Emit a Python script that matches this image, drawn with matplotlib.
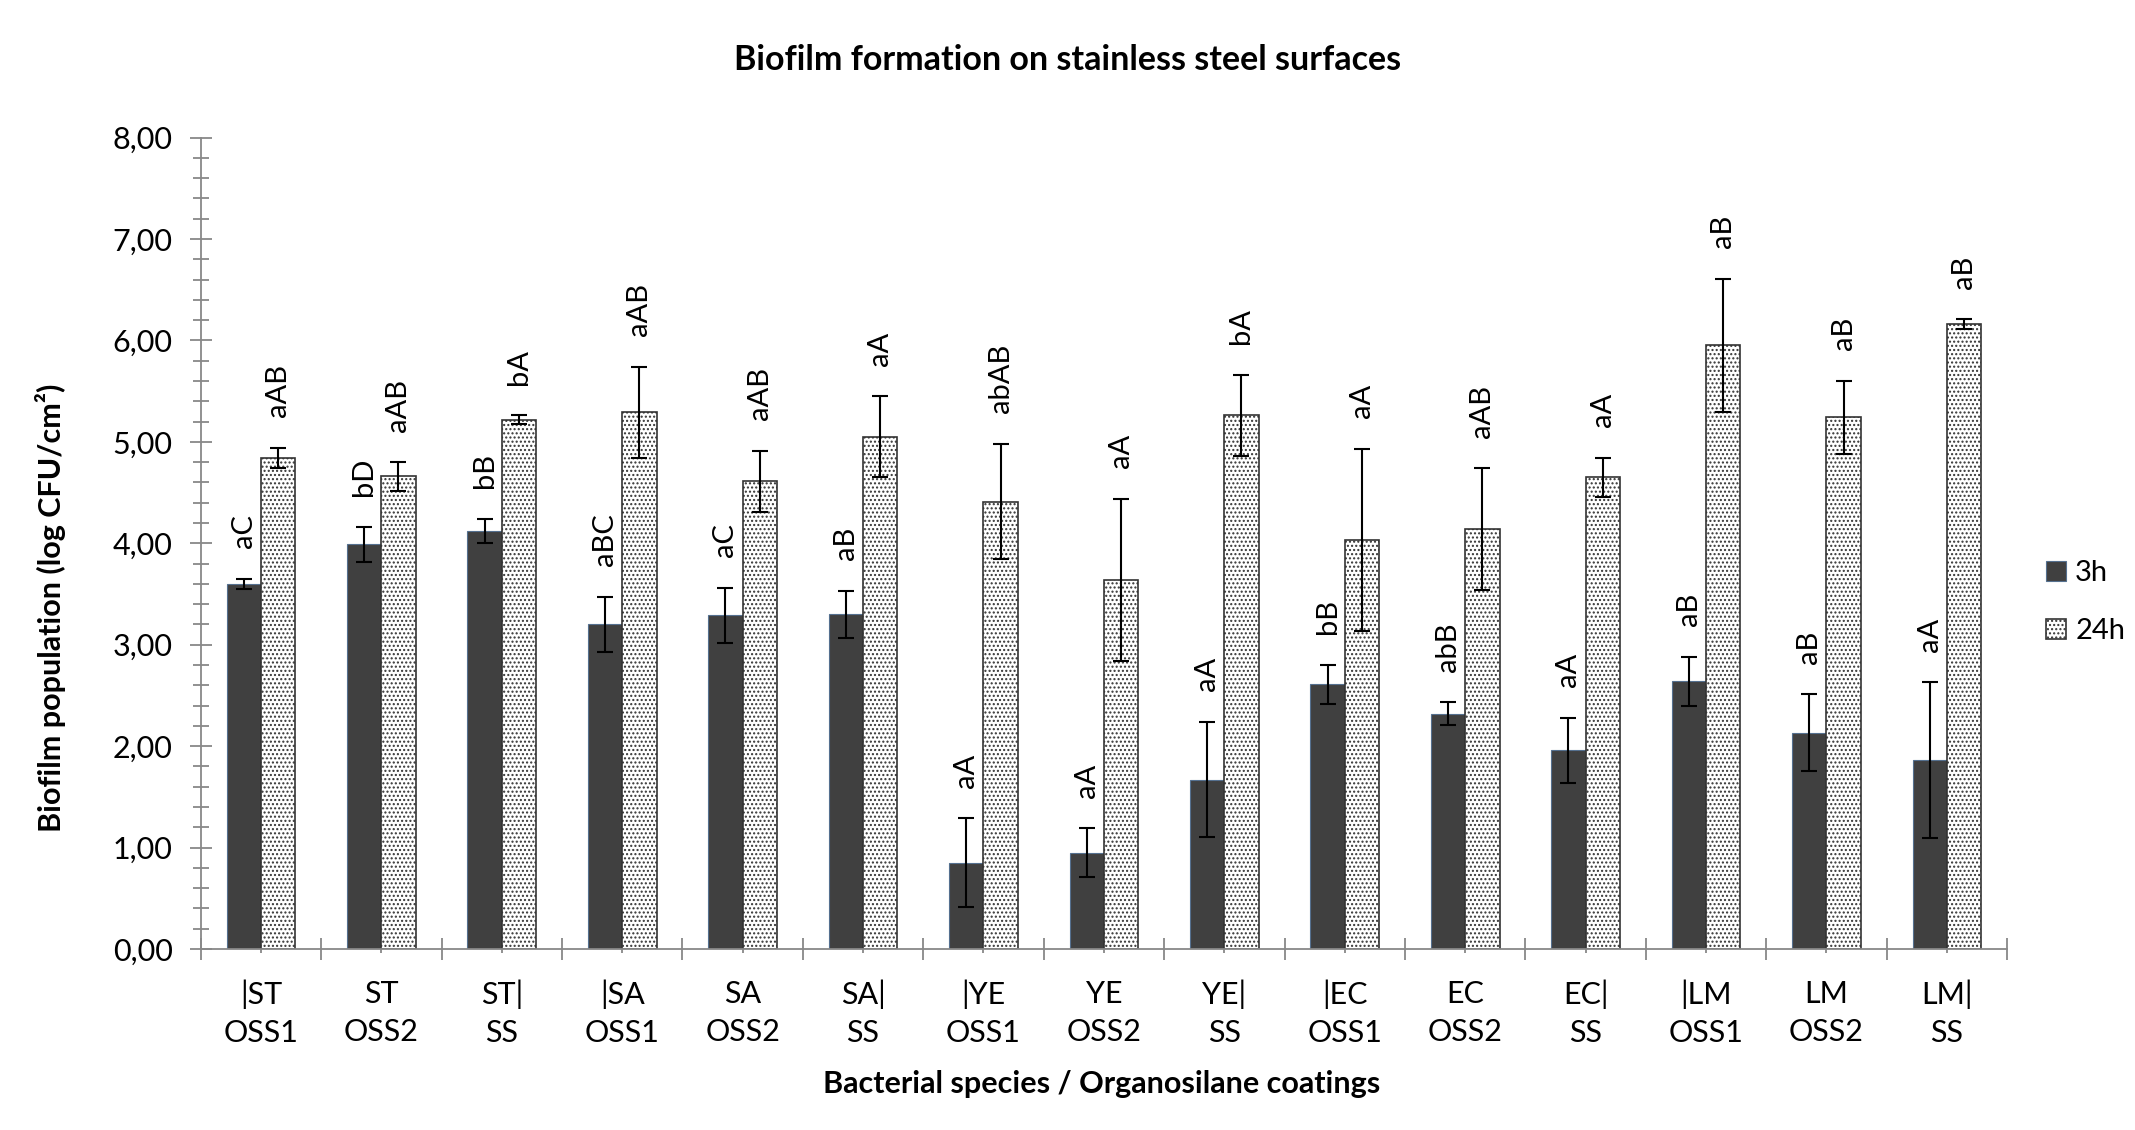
import numpy as np
import matplotlib.pyplot as plt
from matplotlib.ticker import MultipleLocator, FuncFormatter

plt.rcParams['font.family'] = ['Lato', 'DejaVu Sans']
plt.rcParams['hatch.color'] = '#333333'
plt.rcParams['hatch.linewidth'] = 1.0

categories = ['|ST\nOSS1', 'ST\nOSS2', 'ST|\nSS',
              '|SA\nOSS1', 'SA\nOSS2', 'SA|\nSS',
              '|YE\nOSS1', 'YE\nOSS2', 'YE|\nSS',
              '|EC\nOSS1', 'EC\nOSS2', 'EC|\nSS',
              '|LM\nOSS1', 'LM\nOSS2', 'LM|\nSS']

h3 = [3.60, 3.99, 4.12, 3.20, 3.29, 3.30, 0.85, 0.95, 1.67, 2.61, 2.32, 1.96, 2.64, 2.13, 1.86]
h3_err = [0.05, 0.17, 0.12, 0.27, 0.27, 0.23, 0.44, 0.24, 0.57, 0.19, 0.11, 0.32, 0.24, 0.38, 0.77]
h24 = [4.84, 4.66, 5.22, 5.29, 4.61, 5.05, 4.41, 3.64, 5.26, 4.03, 4.14, 4.65, 5.95, 5.24, 6.16]
h24_err = [0.10, 0.14, 0.04, 0.45, 0.30, 0.40, 0.57, 0.80, 0.40, 0.90, 0.60, 0.19, 0.66, 0.36, 0.05]

labels3 = ['aC', 'bD', 'bB', 'aBC', 'aC', 'aB', 'aA', 'aA', 'aA', 'bB', 'abB', 'aA', 'aB', 'aB', 'aA']
labels24 = ['aAB', 'aAB', 'bA', 'aAB', 'aAB', 'aA', 'abAB', 'aA', 'bA', 'aA', 'aAB', 'aA', 'aB', 'aB', 'aB']

fig = plt.figure(figsize=(21.35, 11.3), dpi=100)
ax = fig.add_axes([0.0940, 0.1602, 0.8461, 0.7181])

x = np.arange(len(categories))
w = 0.285
err_kw = dict(ecolor='black', elinewidth=1.5, capsize=6, capthick=1.5)
ax.bar(x - w / 2, h3, w, yerr=h3_err, color='#404040', edgecolor='#55708f',
       linewidth=0.8, error_kw=err_kw, label='3h', zorder=2)
ax.bar(x + w / 2, h24, w, yerr=h24_err, color='white', edgecolor='#333333',
       linewidth=1.2, hatch='....', error_kw=err_kw, label='24h', zorder=2)

# letters above the error bars
for i in range(len(categories)):
    ax.annotate(labels3[i], (x[i] - w / 2, h3[i] + h3_err[i]), xytext=(0, 22),
                textcoords='offset points', rotation=90, ha='center', va='bottom', fontsize=21)
    ax.annotate(labels24[i], (x[i] + w / 2, h24[i] + h24_err[i]), xytext=(0, 22),
                textcoords='offset points', rotation=90, ha='center', va='bottom', fontsize=21)

ax.set_xlim(-0.5, len(categories) - 0.5)
ax.set_ylim(0, 8)
ax.yaxis.set_major_locator(MultipleLocator(1))
ax.yaxis.set_minor_locator(MultipleLocator(0.2))
ax.yaxis.set_major_formatter(FuncFormatter(lambda v, p: ('%.2f' % v).replace('.', ',')))
ax.set_xticks(x)
ax.set_xticklabels(categories, linespacing=1.45)
ax.set_xticks(np.arange(len(categories) + 1) - 0.5, minor=True)

for s in ['top', 'right']:
    ax.spines[s].set_visible(False)
for s in ['left', 'bottom']:
    ax.spines[s].set_color('#888888')
    ax.spines[s].set_linewidth(1.3)

ax.tick_params(axis='y', which='major', direction='inout', length=16.5, width=1.3,
               color='#888888', labelsize=22, pad=12)
ax.tick_params(axis='y', which='minor', direction='inout', length=12, width=1.3, color='#888888')
ax.tick_params(axis='x', which='major', direction='out', length=3, width=1.3,
               color='#888888', labelsize=22, pad=19)
ax.tick_params(axis='x', which='minor', direction='inout', length=16, width=1.3, color='#888888')

fig.text(0.5, 0.947, 'Biofilm formation on stainless steel surfaces', ha='center', va='center',
         fontsize=24.5, fontweight='bold')
fig.text(0.0235, 0.462, 'Biofilm population (log CFU/cm²)', rotation=90, ha='center', va='center',
         fontsize=22, fontweight='bold')
fig.text(0.516, 0.041, 'Bacterial species / Organosilane coatings', ha='center', va='center',
         fontsize=22, fontweight='bold')

ax.legend(loc='center left', bbox_to_anchor=(0.946, 1 - 602 / 1130), bbox_transform=fig.transFigure,
          frameon=False, fontsize=21, handlelength=0.7, handleheight=0.7, handletextpad=0.3,
          labelspacing=1.1)

fig.savefig('out.png', dpi=100)
